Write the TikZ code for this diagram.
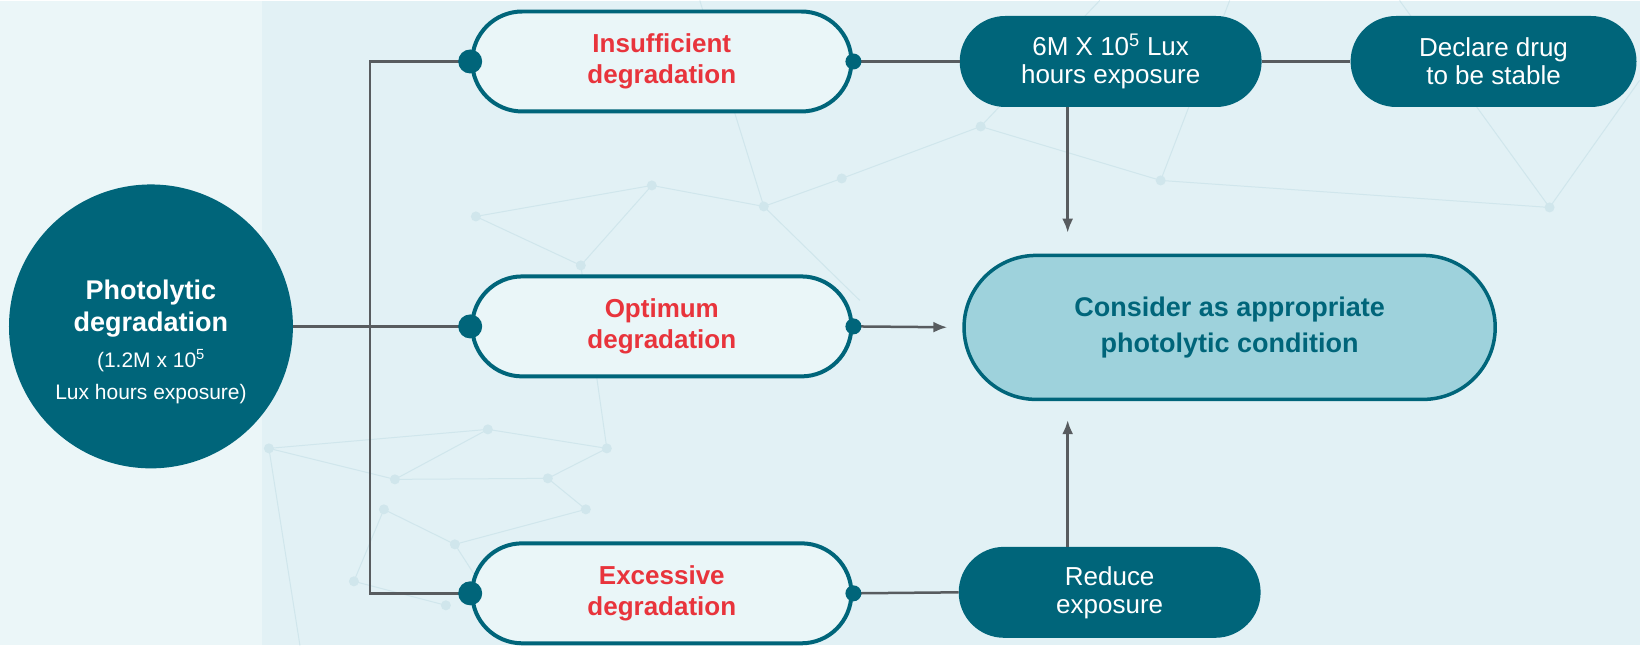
\documentclass[tikz,border=0pt]{standalone}
\usepackage{fontspec}
\setmainfont{Liberation Sans}
\usetikzlibrary{shapes.misc,arrows.meta}

\definecolor{tealosc}{RGB}{0,101,122}
\definecolor{rojo}{RGB}{232,52,60}
\definecolor{gris}{RGB}{88,92,95}
\definecolor{fondo}{RGB}{226,241,245}
\definecolor{fondoclaro}{RGB}{235,246,248}
\definecolor{malla}{RGB}{208,230,236}
\definecolor{celeste}{RGB}{158,210,220}
\definecolor{pastilla}{RGB}{234,246,248}

\begin{document}
\begin{tikzpicture}[x=1pt,y=-1pt]
		\tikzstyle{every node}=[font=\fontsize{26}{31}\selectfont]
		\tikzstyle{pill} = [draw=tealosc, rounded rectangle, align=center, line width=4pt, fill=pastilla, text=rojo, font=\fontsize{26}{31}\selectfont\bfseries, minimum width=386pt, minimum height=100pt]
		\tikzstyle{block} = [rounded rectangle, align=center, fill=tealosc, text=white, minimum width=302pt, minimum height=91pt, inner sep=0pt, font=\fontsize{26}{28}\selectfont]
		\tikzstyle{flecha} = [-{Latex[length=14pt,width=11pt]}, line width=2.5pt, draw=gris]
		\tikzstyle{linea} = [line width=2.5pt, draw=gris]
		\tikzstyle{punto} = [circle, fill=tealosc, inner sep=0pt]
		\newcommand{\chico}{\fontsize{21}{25}\selectfont\mdseries}

		% fondo
		\fill[fondo] (0,0) rectangle (1640,645);
		\fill[fondoclaro] (0,0) rectangle (262,645);
		\foreach \xa/\ya/\xb/\yb in {652/185/476/216, 652/185/581/265, 652/185/764/206, 764/206/842/178, 842/178/981/126,
		   981/126/1161/180, 476/216/581/265, 581/265/607/448, 488/429/607/448, 488/429/269/448, 269/448/395/479,
		   395/479/548/478, 548/478/586/509, 586/509/455/544, 455/544/384/509, 384/509/354/581, 354/581/446/605,
		   395/479/488/429, 607/448/548/478, 1161/180/1550/207, 764/206/860/300, 981/126/1100/0, 1550/207/1640/80,
		   269/448/300/645, 455/544/520/645, 764/206/700/0, 1161/180/1230/0, 1550/207/1400/0}
		   \draw[malla, line width=1pt] (\xa,\ya) -- (\xb,\yb);
		\foreach \xa/\ya in {652/185, 476/216, 581/265, 764/206, 842/178, 981/126, 1161/180, 1550/207, 607/448,
		   488/429, 269/448, 395/479, 548/478, 586/509, 455/544, 384/509, 354/581, 446/605}
		   \fill[malla] (\xa,\ya) circle (5pt);

		% nodos
		\draw (151,326) node[circle, fill=tealosc, text=white, align=center, minimum size=284pt, inner sep=0pt,
		   font=\fontsize{27}{32}\selectfont\bfseries](foto){\rule{0pt}{50pt}Photolytic\\degradation\\[4pt]{\chico (1.2M x 10\textsuperscript{5}}\\{\chico Lux hours exposure)}};
		\draw (662,61) node[pill](insu){Insufficient\\degradation};
		\draw (662,326) node[pill](opti){Optimum\\degradation};
		\draw (662,593) node[pill](exce){Excessive\\degradation};
		\draw (1111,61) node[block](seis){6M X 10\textsuperscript{5} Lux\\hours exposure};
		\draw (1494,61) node[block, minimum width=286pt](decl){Declare drug\\to be stable};
		\draw (1110,592) node[block](redu){Reduce\\exposure};
		\draw (1230,327) node[draw=tealosc, line width=3.5pt, rounded rectangle, fill=celeste, text=tealosc, align=center,
		   minimum width=538pt, minimum height=144pt, font=\fontsize{27}{36}\selectfont\bfseries](cons){Consider as appropriate\\photolytic condition};
		\coordinate (split) at (370,326);

		% conectores
		\draw[linea] (foto.east) -- (opti.west);
		\draw[linea] (insu.west) -| (split) |- (exce.west);
		\draw[linea] (insu.east) -- (seis.west);
		\draw[linea] (seis.east) -- (decl.west);
		\draw[linea] (exce.east) -- (redu.west);
		\draw[flecha, shorten >=15pt] (opti.east) -- (cons.west);
		\draw[flecha, shorten >=21pt] ([xshift=-43pt]seis.south) -- ([xshift=-43pt]seis.south |- cons.north);
		\draw[flecha, shorten >=19pt] ([xshift=-42pt]redu.north) -- ([xshift=-42pt]redu.north |- cons.south);

		% puntos
		\foreach \n in {insu,opti,exce}{
		   \node[punto, minimum size=24pt] at (\n.west){};
		   \node[punto, minimum size=16pt] at (\n.east){};
		}
	\end{tikzpicture}
\end{document}
